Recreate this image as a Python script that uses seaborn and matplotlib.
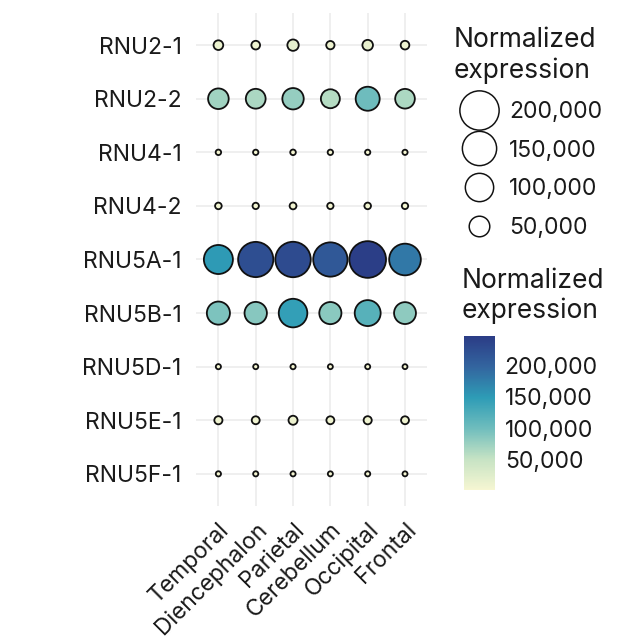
import numpy as np
import pandas as pd
import matplotlib
matplotlib.use("Agg")
import matplotlib.pyplot as plt
import seaborn as sns
from matplotlib.colors import LinearSegmentedColormap, Normalize
from matplotlib.lines import Line2D
from matplotlib.cm import ScalarMappable

# ---------------- data ----------------
regions = ["Temporal", "Diencephalon", "Parietal", "Cerebellum", "Occipital", "Frontal"]
genes = ["RNU2-1", "RNU2-2", "RNU4-1", "RNU4-2", "RNU5A-1",
         "RNU5B-1", "RNU5D-1", "RNU5E-1", "RNU5F-1"]

rnu2_1 = [13000, 10000, 19000, 9000, 16000, 10000]
rnu2_2 = [72000, 66000, 78000, 60000, 100000, 65000]
rnu4_1 = [3000, 2800, 3200, 2900, 2700, 2600]
rnu4_2 = [5000, 4500, 5500, 4500, 5000, 4500]
rnu5a_1 = [150000, 225000, 228000, 213000, 245000, 180000]
rnu5b_1 = [92000, 86000, 145000, 84000, 118000, 82000]
rnu5d_1 = [2500, 2400, 2600, 2300, 2400, 2200]
rnu5e_1 = [8500, 8000, 11000, 8000, 8500, 8000]
rnu5f_1 = [2600, 2500, 2500, 2400, 2500, 2300]

size_legend_breaks = [200000, 150000, 100000, 50000]
colorbar_ticks = [50000, 100000, 150000, 200000]
color_limits = (1000, 247000)

rows = [rnu2_1, rnu2_2, rnu4_1, rnu4_2, rnu5a_1, rnu5b_1, rnu5d_1, rnu5e_1, rnu5f_1]
records = []
for g, vals in zip(genes, rows):
    for r, v in zip(regions, vals):
        records.append({"gene": g, "region": r, "expr": v})
df = pd.DataFrame(records)

# ---------------- styling ----------------
sns.set_theme(style="white")
plt.rcParams["font.family"] = ["Inter", "DejaVu Sans"]

PX = 72 / 100  # points per pixel at dpi 100
EDGE_PX = 1.8
TXT = "#1a1a1a"


def marker_diam_pt(v):
    # outer diameter (px) grows linearly with sqrt of value
    outer_px = 3.4 + 2.24 * np.sqrt(np.asarray(v) / 1000.0)
    return (outer_px - EDGE_PX) * PX


df["area"] = marker_diam_pt(df["expr"]) ** 2
amin, amax = df["area"].min(), df["area"].max()

cmap = LinearSegmentedColormap.from_list(
    "ylgnbu_muted",
    ["#f6f6d2", "#c6e3c4", "#6fbdbd", "#2e9cb6", "#33659f", "#2b3c86"])
norm = Normalize(*color_limits)

fig = plt.figure(figsize=(6.4, 6.42), dpi=100)
ax = fig.add_axes([196 / 640, 1 - 506 / 642, (427.4 - 196) / 640, (506 - 13) / 642])

sns.scatterplot(data=df, x="region", y="gene", hue="expr", hue_norm=norm,
                palette=cmap, size="area", sizes=(amin, amax),
                size_norm=(amin, amax), edgecolor="#111111",
                linewidth=EDGE_PX * PX, legend=False, ax=ax, zorder=3)

ax.set_xlim(-0.6, len(regions) - 0.4)
ax.set_ylim(len(genes) - 0.4, -0.6)
ax.set_xlabel("")
ax.set_ylabel("")
for s in ax.spines.values():
    s.set_visible(False)
ax.grid(True, color="#ebebeb", linewidth=1.1)
ax.set_axisbelow(True)
ax.tick_params(axis="both", length=4.5, width=0.8, color="#333333",
               labelsize=16.5, labelcolor=TXT)
ax.tick_params(axis="y", pad=6)
ax.tick_params(axis="x", length=5, pad=4)
plt.setp(ax.get_xticklabels(), rotation=45, ha="right", va="top",
         rotation_mode="anchor")

# ---------------- size legend ----------------
handles = [Line2D([0], [0], marker="o", linestyle="",
                  markersize=marker_diam_pt(v), markerfacecolor="white",
                  markeredgecolor="#111111", markeredgewidth=1.5 * PX)
           for v in size_legend_breaks]
labels = [f"{v:,}" for v in size_legend_breaks]
leg = fig.legend(handles, labels, title="Normalized\nexpression",
                 loc="upper left", bbox_to_anchor=(454 / 640, 1 - 27 / 642),
                 frameon=False, fontsize=16.5, title_fontsize=19,
                 labelspacing=0.74, handlelength=2.2, handletextpad=0.2,
                 alignment="left", borderaxespad=0, borderpad=0,
                 markerscale=1.18)
for t in leg.get_texts():
    t.set_color(TXT)
leg.get_title().set_color(TXT)

# ---------------- colorbar ----------------
cax = fig.add_axes([464 / 640, 1 - 490 / 642, 31 / 640, 154 / 642])
sm = ScalarMappable(norm=norm, cmap=cmap)
cb = fig.colorbar(sm, cax=cax, ticks=colorbar_ticks)
cb.outline.set_visible(False)
cb.minorticks_off()
cb.ax.set_yticklabels([f"{t:,}" for t in colorbar_ticks])
cax.tick_params(axis="y", direction="in", length=6, width=1.2, color="white",
                labelcolor=TXT, left=True, right=True,
                labelleft=False, labelright=True, labelsize=16.5, pad=7)
fig.text(462 / 640, 1 - 268 / 642, "Normalized\nexpression", ha="left",
         va="top", fontsize=19, color=TXT, linespacing=1.15)

fig.savefig("out.png", dpi=100, facecolor="white")
